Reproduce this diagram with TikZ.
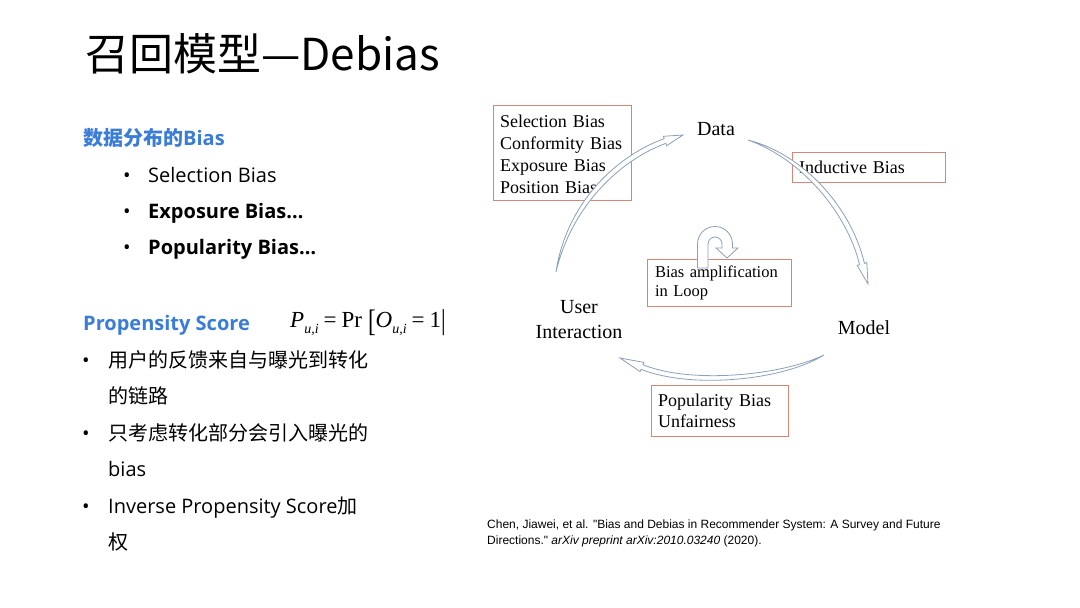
\documentclass[tikz,border=0pt]{standalone}
\usepackage{fontspec}
\usepackage{graphicx}
\setmainfont{Open Sans}
\newfontfamily\cjk{Noto Sans CJK SC}
\newfontfamily\serif{Liberation Serif}
\newfontfamily\citefont{Liberation Sans}
\definecolor{headblue}{RGB}{58,125,216}
\definecolor{boxred}{RGB}{214,133,118}
\definecolor{arrowc}{RGB}{140,160,185}
\newcommand\subui{\raisebox{-0.3em}{\fontsize{14}{14}\selectfont\itshape u,i}}
\begin{document}
\begin{tikzpicture}[x=1pt,y=-1pt,
  lefttxt/.style={anchor=base west, inner sep=0pt, font=\fontsize{20}{24}\selectfont},
  leftbold/.style={anchor=base west, inner sep=0pt, font=\bfseries\fontsize{20}{24}\selectfont},
  headst/.style={anchor=base west, inner sep=0pt, text=headblue, font=\bfseries\fontsize{20}{24}\selectfont},
  lbl/.style={inner sep=0pt, font=\serif\fontsize{20}{25}\selectfont, align=center},
  bbox/.style={draw=boxred, line width=0.9pt, inner ysep=0pt, align=left},
  arrowst/.style={draw=arrowc, line width=0.8pt, fill=white, line join=miter}
]
\useasboundingbox (0,0) rectangle (1080,608);
\fill[white] (0,0) rectangle (1080,608);

% title
\node[anchor=base west, inner sep=0pt, font=\cjk\fontsize{44}{48}\selectfont] (title) at (85,70) {召回模型—Debias};

% left text
\node[headst] (h1) at (83,145) {{\cjk 数据分布的}Bias};
\node[lefttxt] (b1) at (123,182) {\makebox[25pt][l]{•}Selection Bias};
\node[leftbold] (b2) at (123,218) {\makebox[25pt][l]{\mdseries •}Exposure Bias…};
\node[leftbold] (b3) at (123,254) {\makebox[25pt][l]{\mdseries •}Popularity Bias…};

\node[headst] (h2) at (83,330) {Propensity Score};
\node[anchor=west, inner sep=0pt] (formula) at (290,323) {\serif\fontsize{23}{27}\selectfont\textit{P}\subui\hspace{5pt}=\hspace{5pt}Pr\hspace{6pt}\raisebox{-0.2em}{\scalebox{1}[1.35]{[}}\textit{O}\subui\hspace{5pt}=\hspace{5pt}1\raisebox{-0.12em}{\scalebox{1}[1.25]{|}}};

\node[lefttxt] (c1) at (82,367) {\makebox[26pt][l]{•}{\cjk 用户的反馈来自与曝光到转化}};
\node[lefttxt] (c1b) at (108,403) {\cjk 的链路};
\node[lefttxt] (c2) at (82,440) {\makebox[26pt][l]{•}{\cjk 只考虑转化部分会引入曝光的}};
\node[lefttxt] (c2b) at (108,476) {bias};
\node[lefttxt] (c3) at (82,513) {\makebox[26pt][l]{•}Inverse Propensity Score{\cjk 加}};
\node[lefttxt] (c3b) at (108,549) {\cjk 权};

% diagram boxes
\node[bbox, inner xsep=7pt, text width=124pt, minimum height=95pt,
      font=\serif\fontsize{18}{22}\selectfont] (selbox) at (562,152.5)
  {\rule{0pt}{17pt}Selection Bias\\Conformity Bias\\Exposure Bias\\Position Bias};
\node[bbox, inner xsep=7pt, text width=139pt, minimum height=30pt,
      font=\serif\fontsize{18}{22}\selectfont] (indbox) at (868.5,167) {Inductive Bias};
\node[bbox, inner xsep=8pt, text width=128pt, minimum height=47pt,
      font=\serif\fontsize{16.5}{19}\selectfont] (loopbox) at (719,282.5) {Bias amplification\\in Loop};
\node[bbox, inner xsep=7pt, text width=123pt, minimum height=51pt,
      font=\serif\fontsize{18}{21}\selectfont] (popbox) at (719.5,410.5) {Popularity Bias\\Unfairness};

% diagram labels
\node[lbl] (data) at (716,129) {Data};
\node[lbl] (ui) at (579,320) {User\\Interaction};
\node[lbl] (model) at (864,328) {Model};

% arrow end points
\coordinate (uiTail) at (556,272);
\coordinate (dataTip) at (683,135);
\coordinate (dataTail) at (748,140);
\coordinate (modelTip) at (868,284);
\coordinate (modelTail) at (824,355);
\coordinate (uiTip) at (620,358);

% User Interaction -> Data
\draw[arrowst] (uiTail) .. controls (566,205) and (614,157) .. (664.2,138.6)
  -- (663.35,136.3) -- (dataTip) -- (666.65,145.7) -- (665.8,143.35)
  .. controls (618,161) and (571,208) .. (uiTail) -- cycle;
% Data -> Model
\draw[arrowst] (dataTail) .. controls (806,155) and (852,210) .. (864.4,263.3)
  -- (866.8,262.6) -- (modelTip) -- (857.2,265.4) -- (859.6,264.7)
  .. controls (847,213) and (802,159) .. (dataTail) -- cycle;
% Model -> User Interaction
\draw[arrowst] (modelTail) .. controls (780,376) and (690,384) .. (642.95,364.69)
  -- (643.9,362.4) -- (uiTip) -- (640.1,371.6) -- (641.05,369.31)
  .. controls (690,389) and (782,381) .. (modelTail) -- cycle;
% loop arrow
\draw[arrowst] (697.5,268) -- (697.5,244)
  .. controls (697.5,234.335) and (705.335,226.5) .. (715,226.5)
  .. controls (724.665,226.5) and (732.5,234.335) .. (732.5,244)
  -- (732.5,248) -- (738,248) -- (727,258) -- (716,248) -- (722,248) -- (722,244)
  .. controls (722,240.134) and (718.866,237) .. (715,237)
  .. controls (711.134,237) and (708,240.134) .. (708,244)
  -- (708,268) -- cycle;

% citation
\node[anchor=west, inner sep=0pt, align=left, font=\citefont\fontsize{12}{16}\selectfont] (cite) at (487,533)
  {Chen, Jiawei, et al. "Bias and Debias in Recommender System: A Survey and Future\\Directions." \textit{arXiv preprint arXiv:2010.03240} (2020).};
\end{tikzpicture}
\end{document}
